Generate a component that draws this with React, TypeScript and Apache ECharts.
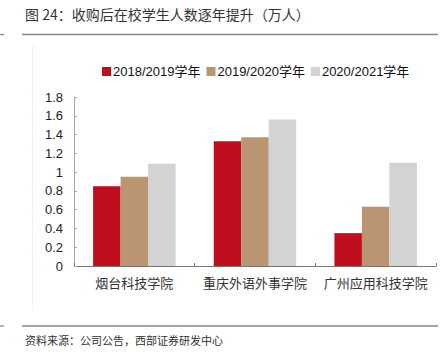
import React, { useEffect, useRef } from "react";
import * as echarts from "echarts";

const categories = ["烟台科技学院", "重庆外语外事学院", "广州应用科技学院"];
const seriesNames = ["2018/2019学年", "2019/2020学年", "2020/2021学年"];
const values2018 = [0.85, 1.33, 0.35];
const values2019 = [0.95, 1.37, 0.63];
const values2020 = [1.09, 1.56, 1.1];
const colors = ["#C10E1F", "#B99671", "#D3D3D3"];
const titleText = "图 24：收购后在校学生人数逐年提升（万人）";
const sourceText = "资料来源：公司公告，西部证券研发中心";

const FONT = "'Liberation Sans', Arial, 'Noto Sans CJK SC', sans-serif";
const CJK = "'Noto Sans CJK SC', sans-serif";

export default function App() {
  const ref = useRef<HTMLDivElement>(null);
  useEffect(() => {
    document.body.style.margin = "0";
    const chart = echarts.init(ref.current!, null, { renderer: "svg" });
    const data = [values2018, values2019, values2020];
    chart.setOption({
      animation: false,
      backgroundColor: "#ffffff",
      textStyle: { fontFamily: FONT },
      graphic: [
        {
          type: "text",
          left: 25,
          top: 7,
          style: { text: titleText, fontSize: 14, fill: "#333", fontFamily: CJK },
        },
        { type: "line", shape: { x1: 0, y1: 34.5, x2: 4, y2: 34.5 }, style: { stroke: "#888", lineWidth: 1.3 } },
        { type: "line", shape: { x1: 22, y1: 34.5, x2: 438, y2: 34.5 }, style: { stroke: "#888", lineWidth: 1.3 } },
        { type: "line", shape: { x1: 32.5, y1: 45, x2: 32.5, y2: 310 }, style: { stroke: "#f2f2f2", lineWidth: 1 } },
        { type: "line", shape: { x1: 0, y1: 326, x2: 4, y2: 326 }, style: { stroke: "#888", lineWidth: 1.3 } },
        { type: "line", shape: { x1: 22, y1: 326, x2: 438, y2: 326 }, style: { stroke: "#888", lineWidth: 1.3 } },
        {
          type: "text",
          left: 25,
          top: 334,
          style: { text: sourceText, fontSize: 11, fill: "#333", fontFamily: CJK },
        },
      ],
      legend: {
        left: 97,
        top: 60,
        itemWidth: 9,
        itemHeight: 9,
        itemGap: 6,
        icon: "rect",
        textStyle: { fontSize: 13, color: "#111", fontFamily: FONT, padding: [0, 0, 0, -3] },
        data: seriesNames,
      },
      grid: { left: 74, right: 7, top: 97, bottom: 88, containLabel: false },
      xAxis: {
        type: "category",
        data: categories,
        axisLine: { lineStyle: { color: "#777", width: 1 } },
        axisTick: { show: true, inside: true, length: 3, lineStyle: { color: "#777" } },
        axisLabel: { interval: 0, fontSize: 13, color: "#333", margin: 10, fontFamily: CJK },
      },
      yAxis: {
        type: "value",
        min: 0,
        max: 1.8,
        interval: 0.2,
        splitLine: { show: false },
        axisLine: { show: true, lineStyle: { color: "#aaa" } },
        axisTick: { show: true, inside: true, length: 3, lineStyle: { color: "#aaa" } },
        axisLabel: {
          fontSize: 13,
          color: "#222",
          margin: 11,
          formatter: (v: number) => String(+v.toFixed(1)),
        },
      },
      series: seriesNames.map((name, i) => ({
        name,
        type: "bar",
        data: data[i],
        barWidth: 27.5,
        barGap: "0%",
        itemStyle: { color: colors[i] },
      })),
    });
    return () => chart.dispose();
  }, []);
  return <div ref={ref} style={{ width: 443, height: 354 }} />;
}
